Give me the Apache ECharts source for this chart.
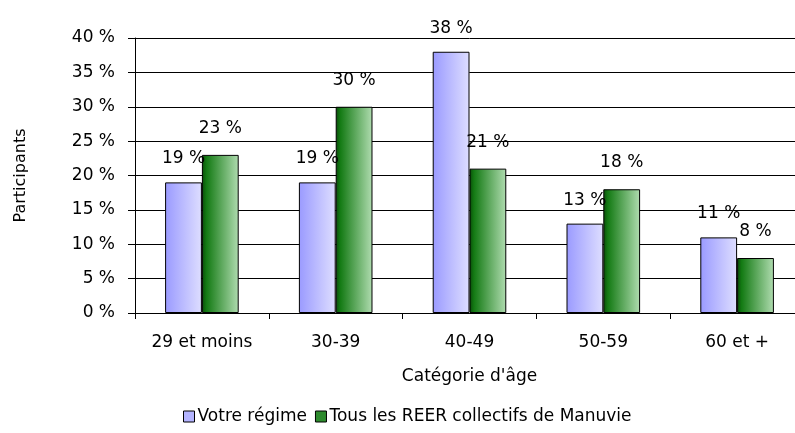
<!DOCTYPE html>
<html><head><meta charset="utf-8">
<script src="https://cdn.jsdelivr.net/npm/echarts@6/dist/echarts.min.js"></script>
<style>html,body{margin:0;padding:0;background:#fff;overflow:hidden;width:795px;height:433px}#c{width:805px;height:433px}</style>
</head><body><div id="c"></div>
<script>
const categories = ['29 et moins', '30-39', '40-49', '50-59', '60 et +'];
const votreRegime = [19, 19, 38, 13, 11];
const tousReer = [23, 30, 21, 18, 8];
const yTicks = [0, 5, 10, 15, 20, 25, 30, 35, 40];
const seriesNames = ['Votre régime', 'Tous les REER collectifs de Manuvie'];

const FONT = 'DejaVu Sans';
const blueGrad = new echarts.graphic.LinearGradient(0, 0, 1, 0, [
  {offset: 0, color: '#9a9aff'}, {offset: 1, color: '#dedeff'}]);
const greenGrad = new echarts.graphic.LinearGradient(0, 0, 1, 0, [
  {offset: 0, color: '#0a4a0a'}, {offset: 0.12, color: '#137a13'}, {offset: 1, color: '#b0dcb0'}]);

const chart = echarts.init(document.getElementById('c'), null, {renderer: 'canvas'});
chart.setOption({
  animation: false,
  backgroundColor: '#fff',
  textStyle: {fontFamily: FONT, color: '#000'},
  grid: {left: 135, right: 1, top: 38, height: 275, containLabel: false},
  legend: {
    left: 178, top: 403,
    itemWidth: 11, itemHeight: 11, itemGap: 8,
    icon: 'rect',
    textStyle: {fontFamily: FONT, fontSize: 17, color: '#000', padding: [0, 0, 0, -2]},
    data: [
      {name: seriesNames[0], itemStyle: {color: '#b4b4ff', borderColor: '#000', borderWidth: 1}},
      {name: seriesNames[1], itemStyle: {color: '#2e8b2e', borderColor: '#000', borderWidth: 1}}
    ]
  },
  xAxis: {
    type: 'category',
    data: categories,
    name: "Catégorie d'âge",
    nameLocation: 'middle',
    nameGap: 55,
    nameTextStyle: {fontFamily: FONT, fontSize: 17, color: '#000'},
    axisLine: {lineStyle: {color: '#000', width: 1}},
    axisTick: {show: true, length: 6, lineStyle: {color: '#000'}},
    axisLabel: {fontFamily: FONT, fontSize: 17, color: '#000', margin: 21},
    splitLine: {show: false}
  },
  yAxis: {
    type: 'value',
    min: yTicks[0], max: yTicks[yTicks.length - 1], interval: 5,
    name: 'Participants',
    nameLocation: 'middle',
    nameGap: 106,
    nameRotate: 90,
    nameTextStyle: {fontFamily: FONT, fontSize: 16, color: '#000'},
    axisLine: {show: true, lineStyle: {color: '#000', width: 1}},
    axisTick: {show: true, length: 7, lineStyle: {color: '#000'}},
    axisLabel: {fontFamily: FONT, fontSize: 17, color: '#000', margin: 20, formatter: '{value} %'},
    splitLine: {show: true, lineStyle: {color: '#000', width: 1}}
  },
  series: [
    {
      name: seriesNames[0], type: 'bar', data: votreRegime,
      barGap: '0%', barCategoryGap: '45%',
      itemStyle: {color: blueGrad, borderColor: '#000', borderWidth: 1},
      label: {show: true, position: 'top', distance: 15, formatter: '{c} %',
        fontFamily: FONT, fontSize: 17, color: '#000'}
    },
    {
      name: seriesNames[1], type: 'bar', data: tousReer,
      barGap: '0%', barCategoryGap: '45%',
      itemStyle: {color: greenGrad, borderColor: '#000', borderWidth: 1},
      label: {show: true, position: 'top', distance: 18, formatter: '{c} %',
        fontFamily: FONT, fontSize: 17, color: '#000'}
    }
  ]
});
</script></body></html>
